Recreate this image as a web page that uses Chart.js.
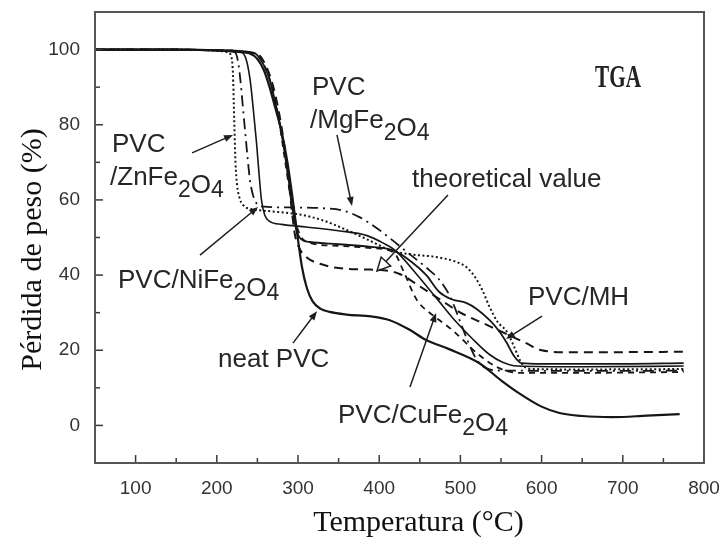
<!DOCTYPE html>
<html>
<head>
<meta charset="utf-8">
<script src="https://cdn.jsdelivr.net/npm/chart.js@4.4.0/dist/chart.umd.min.js"></script>
<style>
  html, body { margin: 0; padding: 0; background: #fff; }
  #wrap { width: 720px; height: 540px; }
</style>
</head>
<body>
<div id="wrap"><canvas id="tga" width="720" height="540"></canvas></div>
<script>
// TGA curves: [temperature °C, residual mass %]
const neatPVC = [[50,100],[150,100],[200,99.8],[230,99.3],[240,99],[250,97.5],[258,94.5],[265,90],[272,84.5],[280,78],[287,70],[293,61],[299,51],[305,42],[311,36.5],[318,33],[328,31],[339,30.2],[360,29.5],[390,29],[413,28],[437,25.5],[458,22.7],[486,20.3],[523,16.6],[550,12],[572,8.6],[600,5],[622,3.3],[650,2.5],[687,2.2],[730,2.6],[770,3]];
const znFe2O4 = [[50,100],[150,100],[200,99.7],[214,99.2],[218,98],[220,93],[221,85],[222,77],[223,70],[225,64],[228,60.5],[233,58.5],[242,57.6],[255,57.2],[275,56.8],[300,56.2],[330,54.6],[360,52],[390,49],[415,46.5],[440,45.5],[470,44.8],[495,43.5],[508,42],[518,39.5],[527,36],[536,31.5],[546,27.5],[557,25],[566,21],[573,17.5],[578,15.8],[590,15],[650,14.9],[775,15]];
const niFe2O4 = [[50,100],[150,100],[200,99.8],[230,99.3],[236,97.5],[241,92],[245,84],[249,75],[252,67],[255,60],[259,56],[265,54.3],[280,53.5],[310,52.8],[350,51.8],[385,50.5],[405,48.5],[420,46.5],[445,40.5],[470,34],[495,27.5],[515,23],[535,19],[552,16.8],[570,15.8],[650,15.6],[775,15.8]];
const mgFe2O4 = [[50,100],[150,100],[200,99.8],[222,99.3],[226,97],[229,92],[232,85],[235,78],[238,71],[241,65],[245,61],[250,58.8],[258,58.2],[290,58],[330,57.8],[355,57.2],[375,55.5],[395,52.8],[415,49.5],[435,46],[458,42],[475,38.5],[488,34],[499,28],[510,22],[520,17.5],[532,15.2],[550,14.6],[700,14.5],[775,14.6]];
const theoretical = [[50,100],[150,100],[200,99.8],[250,98.8],[262,95],[272,88],[280,79],[287,68],[292,58],[296,51],[302,47],[312,44.5],[327,43],[345,42],[380,41.5],[405,41.3],[425,40.3],[450,37],[475,33.5],[500,30],[530,27],[555,24.5],[580,22],[600,20],[630,19.5],[700,19.5],[775,19.6]];
const cuFe2O4 = [[50,100],[150,100],[200,99.8],[245,99],[258,96],[268,90],[276,82],[283,72],[290,62],[296,55],[303,50.5],[315,48.5],[350,47.8],[390,47.2],[418,46],[430,41],[446,33.5],[468,29],[490,25.4],[520,19.3],[545,15.5],[572,14],[650,14],[775,14.2]];
const pvcMH = [[50,100],[150,100],[200,99.8],[245,99.2],[255,97],[265,92],[273,85],[281,76],[288,66],[293,58],[298,52],[304,49.5],[315,48.8],[350,48.2],[390,47.5],[418,46.5],[440,43.5],[458,40],[474,35.5],[490,33.5],[507,32.6],[520,31],[536,28],[548,25],[557,22],[566,18.5],[575,16.6],[600,16.4],[700,16.4],[775,16.6]];

// axis ticks
const xTickValues = [100, 200, 300, 400, 500, 600, 700, 800];
const xMinorValues = [150, 250, 350, 450, 550, 650, 750];
const yTickValues = [0, 20, 40, 60, 80, 100];
const yMinorValues = [10, 30, 50, 70, 90];

const xTitle = 'Temperatura (°C)';
const yTitle = 'Pérdida de peso (%)';

const INK = '#161616';
const SANS = '"Liberation Sans", Arial, sans-serif';
const SERIF = '"Liberation Serif", "Times New Roman", serif';

// callouts: text anchored in data units, arrows from tail to head in data units
const callouts = [
  { at: [70.9, 72.7], segs: [['PVC', 1, 0]] },
  { at: [68.5, 64.0], segs: [['/ZnFe', 1, 0], ['2', 0.88, 12], ['O', 1, 8], ['4', 0.88, 12]] },
  { at: [317.2, 87.9], segs: [['PVC', 1, 0]] },
  { at: [314.8, 79.1], segs: [['/MgFe', 1, 0], ['2', 0.88, 12], ['O', 1, 8], ['4', 0.88, 12]] },
  { at: [440.4, 63.4], segs: [['theoretical value', 1, 0]] },
  { at: [78.3, 36.6], segs: [['PVC/NiFe', 1, 0], ['2', 0.88, 12], ['O', 1, 8], ['4', 0.88, 12]] },
  { at: [201.5, 15.5], segs: [['neat PVC', 1, 0]] },
  { at: [349.3, 0.6], segs: [['PVC/CuFe', 1, 0], ['2', 0.88, 12], ['O', 1, 8], ['4', 0.88, 12]] },
  { at: [583.2, 32.0], segs: [['PVC/MH', 1, 0]] }
];
const arrows = [
  { from: [169.5, 72.5], to: [220.0, 77.3], head: 'solid' },
  { from: [348.0, 77.3], to: [366.5, 58.4], head: 'solid' },
  { from: [484.7, 61.3], to: [397.3, 41.1], head: 'open' },
  { from: [179.3, 45.3], to: [250.7, 58.1], head: 'solid' },
  { from: [293.8, 21.9], to: [323.4, 30.4], head: 'solid' },
  { from: [437.9, 10.2], to: [470.0, 29.9], head: 'solid' },
  { from: [600.5, 29.1], to: [556.1, 23.0], head: 'solid' }
];
const panelTag = { at: [665.8, 90], text: 'TGA' };

function series(points, dash, width) {
  return {
    data: points.map(([x, y]) => ({ x, y })),
    showLine: true,
    borderColor: INK,
    borderWidth: width,
    borderDash: dash,
    pointRadius: 0,
    cubicInterpolationMode: 'monotone',
    fill: false
  };
}

function drawRich(ctx, segs, x0, y0, size) {
  let x = x0;
  ctx.textBaseline = 'alphabetic';
  ctx.textAlign = 'left';
  segs.forEach(([t, k, dy]) => {
    ctx.font = `${Math.round(size * k)}px ${SANS}`;
    ctx.fillText(t, x, y0 + dy);
    x += ctx.measureText(t).width;
  });
}

function drawArrow(ctx, x1, y1, x2, y2, head) {
  const ang = Math.atan2(y2 - y1, x2 - x1);
  const len = head === 'open' ? 13 : 9;
  const half = head === 'open' ? 6.5 : 3.5;
  const bx = x2 - len * Math.cos(ang), by = y2 - len * Math.sin(ang);
  ctx.beginPath();
  ctx.moveTo(x1, y1);
  ctx.lineTo(head === 'open' ? bx : x2 - 3 * Math.cos(ang), head === 'open' ? by : y2 - 3 * Math.sin(ang));
  ctx.stroke();
  const nx = -Math.sin(ang), ny = Math.cos(ang);
  ctx.beginPath();
  ctx.moveTo(x2, y2);
  ctx.lineTo(bx + nx * half, by + ny * half);
  ctx.lineTo(bx - nx * half, by - ny * half);
  ctx.closePath();
  if (head === 'open') ctx.stroke(); else ctx.fill();
}

const decorations = {
  id: 'decorations',
  afterDraw(chart) {
    const { ctx, chartArea: a, scales: { x, y } } = chart;
    ctx.save();
    // inward tick marks
    ctx.strokeStyle = '#3a3a3a';
    ctx.lineWidth = 1.5;
    const tick = (x1, y1, x2, y2) => { ctx.beginPath(); ctx.moveTo(x1, y1); ctx.lineTo(x2, y2); ctx.stroke(); };
    xTickValues.forEach(v => { const p = x.getPixelForValue(v); tick(p, a.bottom, p, a.bottom - 8); });
    xMinorValues.forEach(v => { const p = x.getPixelForValue(v); tick(p, a.bottom, p, a.bottom - 5); });
    yTickValues.forEach(v => { const p = y.getPixelForValue(v); tick(a.left, p, a.left + 8, p); });
    yMinorValues.forEach(v => { const p = y.getPixelForValue(v); tick(a.left, p, a.left + 5, p); });
    // plot frame
    ctx.strokeStyle = '#555';
    ctx.lineWidth = 2;
    ctx.strokeRect(a.left, a.top, a.width, a.height);
    // axis titles
    ctx.fillStyle = '#111';
    ctx.font = `30px ${SERIF}`;
    ctx.textAlign = 'center';
    ctx.textBaseline = 'middle';
    ctx.fillText(xTitle, a.left + a.width / 2 + 19, 523);
    ctx.save();
    ctx.translate(33, a.top + a.height / 2 + 12);
    ctx.rotate(-Math.PI / 2);
    ctx.fillText(yTitle, 0, 0);
    ctx.restore();
    // callout arrows
    ctx.strokeStyle = '#1e1e1e';
    ctx.fillStyle = '#1e1e1e';
    ctx.lineWidth = 1.5;
    arrows.forEach(ar => {
      drawArrow(ctx,
        x.getPixelForValue(ar.from[0]), y.getPixelForValue(ar.from[1]),
        x.getPixelForValue(ar.to[0]), y.getPixelForValue(ar.to[1]), ar.head);
    });
    // callout labels
    ctx.fillStyle = '#262626';
    callouts.forEach(c => drawRich(ctx, c.segs, x.getPixelForValue(c.at[0]), y.getPixelForValue(c.at[1]), 26));
    // panel tag, narrow serif
    ctx.font = `bold 32px ${SERIF}`;
    const w = ctx.measureText(panelTag.text).width;
    ctx.translate(x.getPixelForValue(panelTag.at[0]), y.getPixelForValue(panelTag.at[1]));
    ctx.scale(46 / w, 1);
    ctx.fillStyle = '#222';
    ctx.textAlign = 'left';
    ctx.textBaseline = 'alphabetic';
    ctx.fillText(panelTag.text, 0, 0);
    ctx.restore();
  }
};

new Chart(document.getElementById('tga'), {
  type: 'scatter',
  data: {
    datasets: [
      series(neatPVC, [], 2.2),
      series(znFe2O4, [2, 2.5], 2),
      series(niFe2O4, [], 1.6),
      series(mgFe2O4, [11, 5, 2, 5], 1.8),
      series(theoretical, [9, 6], 2),
      series(cuFe2O4, [6, 5], 1.8),
      series(pvcMH, [], 1.8)
    ]
  },
  options: {
    responsive: false,
    devicePixelRatio: 1,
    animation: false,
    events: [],
    layout: { padding: { top: 12, right: 16, left: 0, bottom: 0 } },
    plugins: { legend: { display: false }, tooltip: { enabled: false } },
    scales: {
      x: {
        type: 'linear',
        min: 50,
        max: 800,
        afterBuildTicks: s => { s.ticks = xTickValues.map(v => ({ value: v })); },
        afterFit: s => { s.height = 77; s.paddingLeft = 0; s.paddingRight = 0; },
        grid: { display: false, drawTicks: false },
        border: { display: false },
        ticks: { padding: 14, color: '#333', font: { family: SANS, size: 19 }, maxRotation: 0, autoSkip: false },
        title: { display: false }
      },
      y: {
        type: 'linear',
        min: -10,
        max: 110,
        afterBuildTicks: s => { s.ticks = yTickValues.map(v => ({ value: v })); },
        afterFit: s => { s.width = 95; s.paddingTop = 0; s.paddingBottom = 0; },
        grid: { display: false, drawTicks: false },
        border: { display: false },
        ticks: { padding: 15, color: '#333', font: { family: SANS, size: 19 }, autoSkip: false },
        title: { display: false }
      }
    }
  },
  plugins: [decorations]
});
</script>
</body>
</html>
